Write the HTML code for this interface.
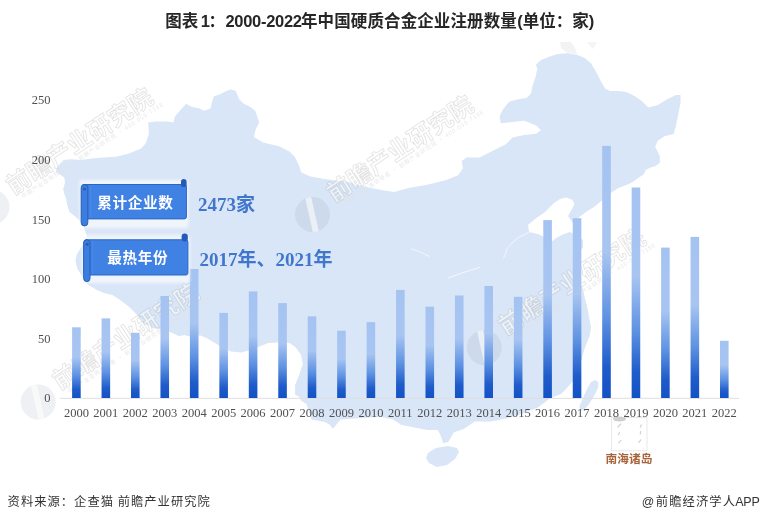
<!DOCTYPE html>
<html><head><meta charset="utf-8">
<style>
html,body{margin:0;padding:0;background:#fff;}
body{width:760px;height:522px;overflow:hidden;position:relative;}
svg{position:absolute;left:0;top:0;}
.t{font-family:"Liberation Sans","Noto Sans CJK SC",sans-serif;}
</style></head><body>
<svg width="760" height="522" viewBox="0 0 760 522">
<defs>
<linearGradient id="bg" x1="0" y1="0" x2="0" y2="1">
<stop offset="0" stop-color="#a5c3f1"/>
<stop offset="0.42" stop-color="#a8c5f2"/>
<stop offset="0.68" stop-color="#5e92e2"/>
<stop offset="0.88" stop-color="#1e5bca"/>
<stop offset="1" stop-color="#1352c6"/>
</linearGradient>
<clipPath id="lc"><circle cx="0" cy="0" r="17.5"/></clipPath>
<filter id="glow" x="-20%" y="-40%" width="140%" height="180%"><feGaussianBlur stdDeviation="1.6"/></filter>
</defs>
<polygon points="55.8,171.1 59,164.7 63.7,160 71.6,159.2 81.1,160 92.1,158.4 103.2,157.6 115.8,156.8 128.4,153.7 141.1,148.5 145.8,143.2 148.9,133.7 148.2,122.6 155.3,121.4 167.9,121.4 173.4,122.6 175,116.3 180.5,110 186.1,103.7 191.6,106.8 199.5,108.4 204.2,110.8 210.5,108.4 212.1,102.1 213.7,96.6 220,94.2 226.3,91.1 231.1,89.5 235.8,91.1 239,98.9 243.7,103.7 250,106.8 255.3,110.8 259.2,122.6 255.3,130.5 254,137.1 263.2,142.4 279,146.3 289.5,151.6 294.7,156.8 298.7,164.7 301.3,172.6 310.5,176.6 326.3,179.2 347.4,181.8 363.2,186.5 384.2,190.5 394.2,192 408.4,188 427.4,184.7 446.3,180 458.2,175.3 462.9,168.2 461.7,161.1 466.5,157.5 479.5,157.5 491.3,151.6 505.5,144.5 512.6,137.4 524.5,135 536.3,133.8 541,130.3 536.3,125.5 524.5,120.8 512.6,122 500.8,123.2 499.6,116 503.2,108.9 509.1,101.8 515,100 522,98.5 526.3,98.2 531,93.4 532.6,85.5 535.8,76.1 537.4,68.2 535.8,65 540.5,60.3 548.4,57.1 557.9,54 567.4,53.2 576.8,54.7 584.7,57.9 591.1,63.4 595.8,71.3 600.5,80.8 605.3,88.7 610,91.1 617.9,91.1 623,91.5 627.4,92.6 634.5,96.1 641.4,100.7 648.3,107.6 657.5,105.3 666.7,99.5 675.9,94.9 680.5,94.9 680.5,103 678.2,114.5 675.9,126 673.6,134 664.4,136.3 657.5,140.9 655.2,146.7 659.8,155.9 659.8,162.8 655.2,166.2 650.6,167.4 646,169.7 643.7,174.3 636.8,178.9 632.2,182.3 627.6,184.6 618.4,188 611.5,192.6 606.9,197.2 600,202 594,207 586,212 578,218 572.5,222.5 568,216 572,209 574.5,204 572,199.5 566,197.5 560,199 554,203 545,212 535,219 528,225 529,232 538,234 545,237.5 550,243 557,237.5 564,234 570,232 578,236 583,240 583,247.5 578,253 574,260 573,270 576,279 582,286 587.2,307.3 591,327.2 589.7,336 587.5,341 584.4,349.2 581.4,360 577.5,371 573,381 566,389 561,394 550.5,397.9 537.9,407.4 522.1,413.7 506.3,418.4 490.5,421.6 474.7,421.6 464.2,428.7 453.7,432.6 448.4,441.8 443.2,443.2 440.5,435.3 437.9,430 427.4,430 414.2,427.4 401,424.7 393.2,419.5 380,416.8 358.9,418.2 340.5,419.5 335.3,426 332.6,428.7 330,424.7 324.7,422.1 311.6,419.5 306.6,404.3 300.9,400.5 299,396.6 295.1,394.7 295.1,385.1 299,375.6 302.8,364 300.9,354.5 295.1,346.8 289.4,343 278,342.5 268.3,343 258.7,346.8 250,350 241.5,352.5 231,351.5 219,345.6 215,342.9 207,338.2 200.3,335.5 188.3,336.2 184.2,334.9 178.9,336.2 170.8,332.2 158.8,328.8 153.4,328.2 148,325.5 140,320 138.2,315.9 129,306.7 119.8,299.8 112.9,295.2 104,293 97,290 88,285 83,278 77,268 75.5,260 77,254 82,246 87,237 84,228 80,221 75.3,216.5 69.5,211.9 67.2,205 66.1,198.5 64.2,193.7 63.2,189 65.1,182.2 64.2,177.5 58.4,173.6" fill="#d9e6f7"/>
<g fill="none" stroke="#fff" stroke-width="0.9" stroke-opacity="0.75" stroke-linejoin="round">
<polyline points="503,258 504.6,256.5 507.2,248.5 512,243 518,237.7 528.7,232.4 534,227"/>
<polyline points="410.7,248.5 420,252 429.5,256.5"/>
<polyline points="448,278 465,272 480.4,267.2"/>
</g>
<polygon points="428,453 436,448 448,446 457,448 459,452 455,459 447,465 437,467 429,463 426,458" fill="#d9e6f7"/>
<polygon points="595,380 598.5,382 598,388 594,396 589,404 584,410 580,411 579.5,406 583,398 587,389 591,382" fill="#d9e6f7"/>
<g><g transform="translate(-8,207)"><circle cx="0" cy="0" r="17.5" fill="#7d8799" fill-opacity="0.12"/>
<line x1="-4.5" y1="-18" x2="3.5" y2="18" stroke="#fff" stroke-opacity="0.6" stroke-width="6" clip-path="url(#lc)"/></g>
<g transform="translate(-8,207) rotate(-33.5)">
<text x="24.5" y="2" font-family="Noto Sans CJK SC, sans-serif" font-weight="bold" font-size="24" letter-spacing="0.3" fill="#fff" fill-opacity="0.5" stroke="#7a7a7a" stroke-opacity="0.2" stroke-width="0.9">前瞻产业研究院</text>
<text x="30.5" y="10" font-family="Noto Sans CJK SC, sans-serif" font-size="5.5" fill="#e2e2e2" fill-opacity="0.8" letter-spacing="0.9">中国产业咨询领导者 · 前瞻产业研究院 · 400-068-7188</text>
</g><g transform="translate(312.5,214.5)"><circle cx="0" cy="0" r="17.5" fill="#7d8799" fill-opacity="0.12"/>
<line x1="-4.5" y1="-18" x2="3.5" y2="18" stroke="#fff" stroke-opacity="0.6" stroke-width="6" clip-path="url(#lc)"/></g>
<g transform="translate(312.5,214.5) rotate(-33.5)">
<text x="24.5" y="2" font-family="Noto Sans CJK SC, sans-serif" font-weight="bold" font-size="24" letter-spacing="0.3" fill="#fff" fill-opacity="0.5" stroke="#7a7a7a" stroke-opacity="0.2" stroke-width="0.9">前瞻产业研究院</text>
<text x="30.5" y="10" font-family="Noto Sans CJK SC, sans-serif" font-size="5.5" fill="#e2e2e2" fill-opacity="0.8" letter-spacing="0.9">中国产业咨询领导者 · 前瞻产业研究院 · 400-068-7188</text>
</g><g transform="translate(38.2,402)"><circle cx="0" cy="0" r="17.5" fill="#7d8799" fill-opacity="0.12"/>
<line x1="-4.5" y1="-18" x2="3.5" y2="18" stroke="#fff" stroke-opacity="0.6" stroke-width="6" clip-path="url(#lc)"/></g>
<g transform="translate(38.2,402) rotate(-33.5)">
<text x="24.5" y="2" font-family="Noto Sans CJK SC, sans-serif" font-weight="bold" font-size="24" letter-spacing="0.3" fill="#fff" fill-opacity="0.5" stroke="#7a7a7a" stroke-opacity="0.2" stroke-width="0.9">前瞻产业研究院</text>
<text x="30.5" y="10" font-family="Noto Sans CJK SC, sans-serif" font-size="5.5" fill="#e2e2e2" fill-opacity="0.8" letter-spacing="0.9">中国产业咨询领导者 · 前瞻产业研究院 · 400-068-7188</text>
</g><g transform="translate(484.3,347.6)"><circle cx="0" cy="0" r="17.5" fill="#7d8799" fill-opacity="0.12"/>
<line x1="-4.5" y1="-18" x2="3.5" y2="18" stroke="#fff" stroke-opacity="0.6" stroke-width="6" clip-path="url(#lc)"/></g>
<g transform="translate(484.3,347.6) rotate(-33.5)">
<text x="24.5" y="2" font-family="Noto Sans CJK SC, sans-serif" font-weight="bold" font-size="24" letter-spacing="0.3" fill="#fff" fill-opacity="0.5" stroke="#7a7a7a" stroke-opacity="0.2" stroke-width="0.9">前瞻产业研究院</text>
<text x="30.5" y="10" font-family="Noto Sans CJK SC, sans-serif" font-size="5.5" fill="#e2e2e2" fill-opacity="0.8" letter-spacing="0.9">中国产业咨询领导者 · 前瞻产业研究院 · 400-068-7188</text>
</g></g>
<polygon points="560,42 571,42 575,48 577,54 567,53 561,48" fill="#9aa0a8" fill-opacity="0.13"/>
<polygon points="587,42 597,42 595,46 593,49 590,46" fill="#9aa0a8" fill-opacity="0.1"/>
<line x1="60" y1="398.3" x2="739" y2="398.3" stroke="#dedede" stroke-width="1"/>
<rect x="72.10" y="327.3" width="8.6" height="70.7" fill="url(#bg)"/><rect x="101.55" y="318.4" width="8.6" height="79.6" fill="url(#bg)"/><rect x="131.00" y="332.8" width="8.6" height="65.2" fill="url(#bg)"/><rect x="160.45" y="296.0" width="8.6" height="102.0" fill="url(#bg)"/><rect x="189.90" y="269.0" width="8.6" height="129.0" fill="url(#bg)"/><rect x="219.35" y="312.9" width="8.6" height="85.1" fill="url(#bg)"/><rect x="248.80" y="291.4" width="8.6" height="106.6" fill="url(#bg)"/><rect x="278.25" y="303.1" width="8.6" height="94.9" fill="url(#bg)"/><rect x="307.70" y="316.3" width="8.6" height="81.7" fill="url(#bg)"/><rect x="337.15" y="330.7" width="8.6" height="67.3" fill="url(#bg)"/><rect x="366.60" y="322.1" width="8.6" height="75.9" fill="url(#bg)"/><rect x="396.05" y="289.9" width="8.6" height="108.1" fill="url(#bg)"/><rect x="425.50" y="306.7" width="8.6" height="91.3" fill="url(#bg)"/><rect x="454.95" y="295.5" width="8.6" height="102.5" fill="url(#bg)"/><rect x="484.40" y="286.0" width="8.6" height="112.0" fill="url(#bg)"/><rect x="513.85" y="296.8" width="8.6" height="101.2" fill="url(#bg)"/><rect x="543.30" y="220.1" width="8.6" height="177.9" fill="url(#bg)"/><rect x="572.75" y="218.2" width="8.6" height="179.8" fill="url(#bg)"/><rect x="602.20" y="145.9" width="8.6" height="252.1" fill="url(#bg)"/><rect x="631.65" y="187.5" width="8.6" height="210.5" fill="url(#bg)"/><rect x="661.10" y="247.6" width="8.6" height="150.4" fill="url(#bg)"/><rect x="690.55" y="236.9" width="8.6" height="161.1" fill="url(#bg)"/><rect x="720.00" y="340.8" width="8.6" height="57.2" fill="url(#bg)"/>
<g font-family="Liberation Serif, serif" font-size="12.5" fill="#505050" text-anchor="middle">
<text x="76.40" y="417.1">2000</text><text x="105.85" y="417.1">2001</text><text x="135.30" y="417.1">2002</text><text x="164.75" y="417.1">2003</text><text x="194.20" y="417.1">2004</text><text x="223.65" y="417.1">2005</text><text x="253.10" y="417.1">2006</text><text x="282.55" y="417.1">2007</text><text x="312.00" y="417.1">2008</text><text x="341.45" y="417.1">2009</text><text x="370.90" y="417.1">2010</text><text x="400.35" y="417.1">2011</text><text x="429.80" y="417.1">2012</text><text x="459.25" y="417.1">2013</text><text x="488.70" y="417.1">2014</text><text x="518.15" y="417.1">2015</text><text x="547.60" y="417.1">2016</text><text x="577.05" y="417.1">2017</text><text x="606.50" y="417.1">2018</text><text x="635.95" y="417.1">2019</text><text x="665.40" y="417.1">2020</text><text x="694.85" y="417.1">2021</text><text x="724.30" y="417.1">2022</text>
</g>
<g font-family="Liberation Serif, serif" font-size="12.5" fill="#505050" text-anchor="end">
<text x="50.5" y="402.2">0</text><text x="50.5" y="342.6">50</text><text x="50.5" y="283.1">100</text><text x="50.5" y="223.5">150</text><text x="50.5" y="164.0">200</text><text x="50.5" y="104.4">250</text>
</g>
<text x="165.3" y="26.5" font-family="Liberation Sans, Noto Sans CJK SC, sans-serif" font-weight="bold" font-size="16.5" fill="#262626">图表<tspan dx="2.5">1</tspan><tspan dx="-1.5">：</tspan><tspan dx="0.5" letter-spacing="-0.3">2000-2022</tspan><tspan dx="-0.8" letter-spacing="0.12">年中国硬质合金企业注册数量</tspan><tspan dx="0.3">(单位：家)</tspan></text>
<!-- banners -->
<g fill="#fff" opacity="0.6" filter="url(#glow)">
<rect x="79.5" y="180" width="109" height="48" rx="3"/>
<rect x="82" y="235" width="108" height="48" rx="3"/>
</g>
<g>
<rect x="82" y="184.5" width="104.4" height="34.4" rx="2" fill="#3f82e3" stroke="#2c66c4" stroke-width="1"/>
<rect x="181" y="179" width="5.6" height="8" rx="2.8" fill="#2659b8"/>
<rect x="81.2" y="184.5" width="6.6" height="41.4" rx="3.2" fill="#3b7ee0" stroke="#2a5fb8" stroke-width="1"/>
<circle cx="84.6" cy="189" r="1.6" fill="#2b5cb3"/>
<line x1="90.5" y1="186" x2="90.5" y2="218" stroke="#4d8ee8" stroke-width="0.8"/>
<text x="135.4" y="208" text-anchor="middle" font-family="Noto Sans CJK SC, sans-serif" font-weight="bold" font-size="14.6" letter-spacing="0.7" fill="#fff">累计企业数</text>
<rect x="84" y="239.8" width="103.9" height="35.2" rx="2" fill="#3f82e3" stroke="#2c66c4" stroke-width="1"/>
<rect x="181.6" y="233.5" width="6.2" height="8" rx="3" fill="#2659b8"/>
<rect x="83.7" y="239.8" width="6.3" height="41.8" rx="3.1" fill="#3b7ee0" stroke="#2a5fb8" stroke-width="1"/>
<circle cx="87.2" cy="244.3" r="1.6" fill="#2b5cb3"/>
<line x1="92.7" y1="241" x2="92.7" y2="274" stroke="#4d8ee8" stroke-width="0.8"/>
<text x="137.8" y="263" text-anchor="middle" font-family="Noto Sans CJK SC, sans-serif" font-weight="bold" font-size="14.6" letter-spacing="0.7" fill="#fff">最热年份</text>
</g>
<g font-family="Liberation Serif, Noto Sans CJK SC, serif" font-weight="bold" font-size="19" fill="#4076cc">
<text x="198" y="211">2473家</text>
<text x="199.5" y="266">2017年、2021年</text>
</g>
<!-- nanhai -->
<rect x="611.5" y="417.5" width="35.5" height="33.3" fill="none" stroke="#e4e4e4" stroke-width="0.8"/>
<ellipse cx="619.5" cy="419" rx="6.5" ry="2.4" fill="#cfcfcf"/>
<g stroke="#cbcbcb" stroke-width="1.2" stroke-linecap="round" opacity="0.85">
<line x1="618" y1="427" x2="620.8" y2="424"/>
<line x1="618.5" y1="434.5" x2="619.5" y2="432.5"/>
<line x1="618.5" y1="442.8" x2="621" y2="440.3"/>
<line x1="640.3" y1="427.2" x2="641.3" y2="424.8"/>
<line x1="640.3" y1="434" x2="640.6" y2="431.5"/>
<line x1="638.8" y1="442.3" x2="640.8" y2="439.8"/>
</g>
<text x="629" y="462.8" text-anchor="middle" font-family="Noto Sans CJK SC, sans-serif" font-weight="bold" font-size="11.7" fill="#a8643a">南海诸岛</text>
<text x="7.6" y="505.8" font-family="Noto Sans CJK SC, sans-serif" font-size="12.3" letter-spacing="1.0" fill="#333">资料来源：企查猫 前瞻产业研究院</text>
<text x="641.8" y="505.8" font-family="Liberation Sans, Noto Sans CJK SC, sans-serif" font-size="12.3" fill="#333">@<tspan dx="1.5" letter-spacing="1.1">前瞻经济学人</tspan><tspan dx="-1" font-size="12.5" letter-spacing="-0.2">APP</tspan></text>
</svg>
</body></html>
